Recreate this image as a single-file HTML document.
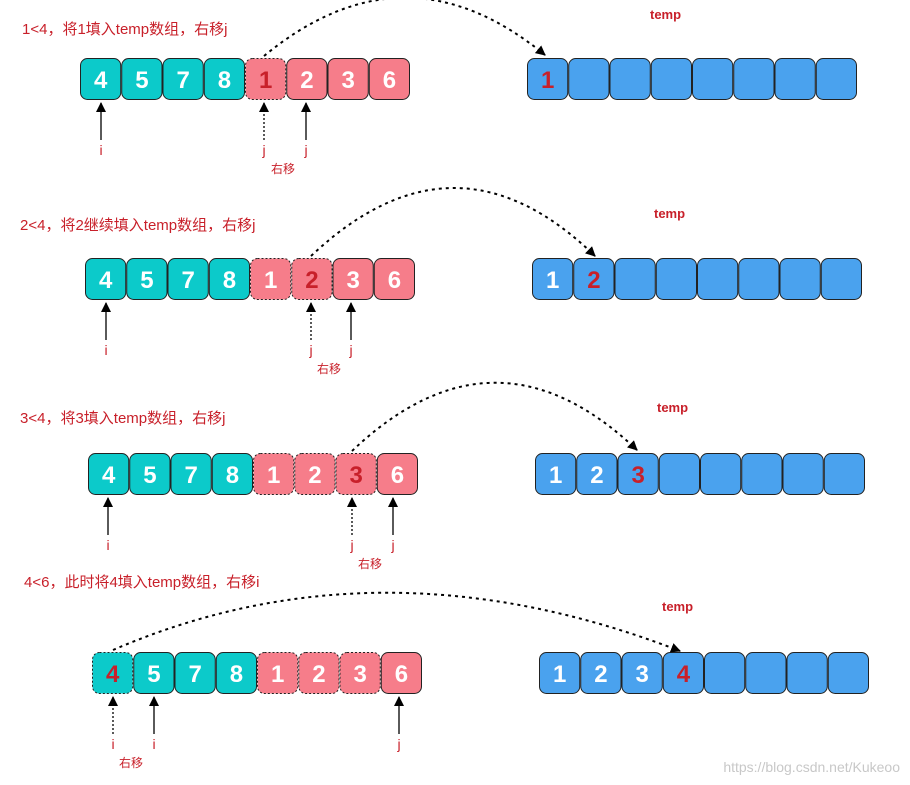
<!DOCTYPE html>
<html><head><meta charset="utf-8"><style>
html,body{margin:0;padding:0;background:#fff;}
svg{display:block;font-family:"Liberation Sans","Noto Sans CJK SC",sans-serif;}
</style></head><body>
<svg id="s" width="910" height="785" viewBox="0 0 910 785" xmlns="http://www.w3.org/2000/svg">
<defs><marker id="ah" markerWidth="10" markerHeight="10" refX="9" refY="5" orient="auto" markerUnits="userSpaceOnUse"><path d="M0,0 L10,5 L0,10 z" fill="#000"/></marker></defs>
</svg>
<script>
var s=document.getElementById('s'),ns='http://www.w3.org/2000/svg',out='';
var TE='#0ccaca',PK='#f67d8a',BL='#4aa2ee',RD='#c8202a';
var rows=[
 {lx:80,rx:527,y:58,title:'1<4，将1填入temp数组，右移j',tx:22,ty:34,tpx:650,tpy:19,
  dotted:[4],red:4,temp:['1'],tred:0,
  arrows:[[101,0,'i'],[264,1,'j'],[306,0,'j']],shift:283,
  curve:'M264,56 Q405,-60 545,55'},
 {lx:85,rx:532,y:258,title:'2<4，将2继续填入temp数组，右移j',tx:20,ty:230,tpx:654,tpy:218,
  dotted:[4,5],red:5,temp:['1','2'],tred:1,
  arrows:[[106,0,'i'],[311,1,'j'],[351,0,'j']],shift:329,
  curve:'M311,256 Q455,120 595,256'},
 {lx:88,rx:535,y:453,title:'3<4，将3填入temp数组，右移j',tx:20,ty:423,tpx:657,tpy:412,
  dotted:[4,5,6],red:6,temp:['1','2','3'],tred:2,
  arrows:[[108,0,'i'],[352,1,'j'],[393,0,'j']],shift:370,
  curve:'M352,451 Q495,315 637,450'},
 {lx:92,rx:539,y:652,title:'4<6，此时将4填入temp数组，右移i',tx:24,ty:587,tpx:662,tpy:611,
  dotted:[0,4,5,6],red:0,temp:['1','2','3','4'],tred:3,
  arrows:[[113,1,'i'],[154,0,'i'],[399,0,'j']],shift:131,
  curve:'M113,650 Q380,535 680,651'}
];
var left=['4','5','7','8','1','2','3','6'];
var W=41.25,H=42;
rows.forEach(function(r){
 out+='<text x="'+r.tx+'" y="'+r.ty+'" font-size="15" fill="'+RD+'">'+r.title.replace('<','&lt;')+'</text>';
 out+='<text x="'+r.tpx+'" y="'+r.tpy+'" font-size="13" font-weight="bold" fill="'+RD+'">temp</text>';
 for(var k=0;k<8;k++){
  var x=r.lx+k*W,d=r.dotted.indexOf(k)>=0;
  out+='<rect x="'+(x+0.5)+'" y="'+(r.y+0.5)+'" width="'+(W-1)+'" height="'+(H-1)+'" rx="7" fill="'+(k<4?TE:PK)+'" stroke="#222" stroke-width="1"'+(d?' stroke-dasharray="2,2"':'')+'/>';
  out+='<text x="'+(x+W/2)+'" y="'+(r.y+30)+'" text-anchor="middle" font-size="24" font-weight="bold" fill="'+(k==r.red?RD:'#fff')+'">'+left[k]+'</text>';
  var rx=r.rx+k*W;
  out+='<rect x="'+(rx+0.5)+'" y="'+(r.y+0.5)+'" width="'+(W-1)+'" height="'+(H-1)+'" rx="7" fill="'+BL+'" stroke="#222" stroke-width="1"/>';
  if(k<r.temp.length) out+='<text x="'+(rx+W/2)+'" y="'+(r.y+30)+'" text-anchor="middle" font-size="24" font-weight="bold" fill="'+(k==r.tred?RD:'#fff')+'">'+r.temp[k]+'</text>';
 }
 r.arrows.forEach(function(a){
  out+='<line x1="'+a[0]+'" y1="'+(r.y+H+40)+'" x2="'+a[0]+'" y2="'+(r.y+H+3)+'" stroke="#000" stroke-width="1.3"'+(a[1]?' stroke-dasharray="2,2"':'')+' marker-end="url(#ah)"/>';
  out+='<text x="'+a[0]+'" y="'+(r.y+H+55)+'" text-anchor="middle" font-size="14" fill="'+RD+'">'+a[2]+'</text>';
 });
 out+='<text x="'+r.shift+'" y="'+(r.y+H+73)+'" text-anchor="middle" font-size="12" fill="'+RD+'">右移</text>';
 out+='<path d="'+r.curve+'" fill="none" stroke="#000" stroke-width="2" stroke-dasharray="3,4" marker-end="url(#ah)"/>';
});
out+='<text x="900" y="772" text-anchor="end" font-size="14" fill="#c8c8c8">https://blog.csdn.net/Kukeoo</text>';
s.insertAdjacentHTML('beforeend',out);
</script>
</body></html>
